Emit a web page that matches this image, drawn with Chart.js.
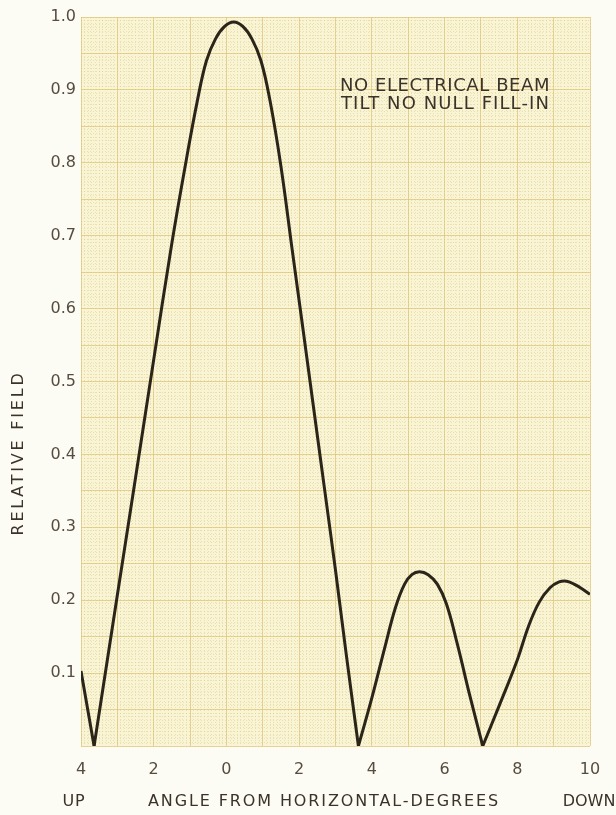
<!DOCTYPE html>
<html lang="en">
<head>
    <meta charset="UTF-8">
    <title>Relative Field vs Angle</title>
    <script src="https://cdn.jsdelivr.net/npm/chart.js"></script>
    <style>
        body {
            margin: 0;
            background: #fcfcf4;
        }
        .chart-container {
            width: 616px;
            height: 815px;
        }
    </style>
</head>
<body>
<div class="chart-container">
    <canvas id="fieldChart"></canvas>
</div>

<script>
    // angle in degrees, negative = up, positive = down
    const angles = [-4.0, -3.64,
        -3.0, -2.5, -2.0, -1.5, -1.1, -0.8, -0.55, -0.3, -0.05, 0.2, 0.45, 0.7, 0.95, 1.2, 1.5, 1.8, 2.1, 2.4, 2.7, 3.0, 3.3, 3.63,
        4.0, 4.35, 4.65, 4.9, 5.1, 5.31, 5.55, 5.8, 6.05, 6.35, 6.7, 7.05,
        7.5, 8.0, 8.3, 8.6, 8.9, 9.15, 9.36, 9.6, 9.8, 10.0];
    const relField = [0.103, 0,
        0.207, 0.368, 0.53, 0.69, 0.805, 0.885, 0.94, 0.97, 0.987, 0.993, 0.987, 0.97, 0.94, 0.885, 0.795, 0.684, 0.574, 0.463, 0.352, 0.241, 0.124, 0,
        0.066, 0.134, 0.19, 0.222, 0.235, 0.239, 0.235, 0.222, 0.195, 0.14, 0.068, 0,
        0.055, 0.118, 0.163, 0.197, 0.217, 0.225, 0.226, 0.221, 0.215, 0.208];

    const noteLines = ['NO ELECTRICAL BEAM', 'TILT NO NULL FILL-IN'];

    const textColor = '#3b332a';
    const tickColor = '#564c40';
    const majorGrid = 'rgba(222, 196, 120, 0.7)';
    const fineGrid = 'rgba(215, 190, 120, 0.4)';

    // split the curve at the nulls so each lobe keeps a sharp V
    const segments = [];
    let current = [];
    angles.forEach((a, i) => {
        current.push({ x: a, y: relField[i] });
        if (relField[i] === 0 && current.length > 1) {
            segments.push(current);
            current = [{ x: a, y: 0 }];
        }
    });
    if (current.length > 1) segments.push(current);

    const datasets = segments.map(seg => ({
        data: seg,
        borderColor: '#2b2419',
        borderWidth: 3,
        pointRadius: 0,
        tension: 0.4,
        fill: false
    }));

    function spaced(ctx, text, x, y, width) {
        ctx.letterSpacing = '0px';
        const w = ctx.measureText(text).width;
        const ls = Math.max(0, (width - w) / text.length);
        ctx.letterSpacing = ls + 'px';
        ctx.fillText(text, x, y);
        ctx.letterSpacing = '0px';
    }

    const paper = {
        id: 'paper',
        beforeDraw(chart) {
            const ctx = chart.ctx;
            const a = chart.chartArea;
            ctx.save();
            ctx.fillStyle = '#fcfcf4';
            ctx.fillRect(0, 0, chart.width, chart.height);
            ctx.fillStyle = '#f8f4d4';
            ctx.fillRect(a.left, a.top, a.right - a.left, a.bottom - a.top);
            ctx.restore();
        },
        afterDraw(chart) {
            const ctx = chart.ctx;
            ctx.save();
            ctx.fillStyle = textColor;
            ctx.textBaseline = 'middle';

            ctx.font = '18px "DejaVu Sans"';
            ctx.textAlign = 'left';
            spaced(ctx, noteLines[0], 340, 86, 210);
            spaced(ctx, noteLines[1], 341, 104, 209);

            ctx.font = '16px "DejaVu Sans"';
            ctx.textAlign = 'center';
            spaced(ctx, 'ANGLE FROM HORIZONTAL-DEGREES', 324, 802, 352);
            spaced(ctx, 'UP', 74, 802, 23);
            spaced(ctx, 'DOWN', 589, 802, 50);

            ctx.translate(19, 453);
            ctx.rotate(-Math.PI / 2);
            spaced(ctx, 'RELATIVE FIELD', 0, 0, 165);
            ctx.restore();
        }
    };

    const ctx = document.getElementById('fieldChart').getContext('2d');
    new Chart(ctx, {
        type: 'line',
        data: { datasets: datasets },
        options: {
            responsive: true,
            maintainAspectRatio: false,
            animation: false,
            layout: { padding: { top: 17, right: 26, left: 0, bottom: 0 } },
            plugins: {
                legend: { display: false },
                tooltip: { enabled: false }
            },
            scales: {
                x: {
                    type: 'linear',
                    min: -4,
                    max: 10,
                    afterFit: s => { s.height = 69; },
                    grid: { color: majorGrid, drawTicks: false },
                    border: { display: false },
                    ticks: {
                        stepSize: 1,
                        autoSkip: false,
                        maxTicksLimit: 100,
                        maxRotation: 0,
                        padding: 14,
                        color: tickColor,
                        font: { family: 'DejaVu Sans', size: 16 },
                        callback: v => (v % 2 === 0 ? String(Math.abs(v)) : '')
                    }
                },
                xFine: {
                    type: 'linear',
                    position: 'bottom',
                    min: -4,
                    max: 10,
                    z: -1,
                    afterFit: s => { s.height = 0; },
                    grid: { color: fineGrid, drawTicks: false },
                    border: { display: false, dash: [1, 2] },
                    ticks: { display: false, stepSize: 0.1, maxTicksLimit: 500 }
                },
                y: {
                    min: 0,
                    max: 1,
                    afterFit: s => { s.width = 81; },
                    grid: { color: majorGrid, drawTicks: false },
                    border: { display: false },
                    ticks: {
                        stepSize: 0.05,
                        autoSkip: false,
                        maxTicksLimit: 100,
                        padding: 5,
                        color: tickColor,
                        font: { family: 'DejaVu Sans', size: 16 },
                        callback: v => {
                            const n = Math.round(v * 100);
                            return (n > 0 && n % 10 === 0) ? (n / 100).toFixed(1) : '';
                        }
                    }
                },
                yFine: {
                    position: 'left',
                    min: 0,
                    max: 1,
                    z: -1,
                    afterFit: s => { s.width = 0; },
                    grid: { color: fineGrid, drawTicks: false },
                    border: { display: false, dash: [1, 2] },
                    ticks: { display: false, stepSize: 0.005, maxTicksLimit: 500 }
                }
            }
        },
        plugins: [paper]
    });
</script>
</body>
</html>
